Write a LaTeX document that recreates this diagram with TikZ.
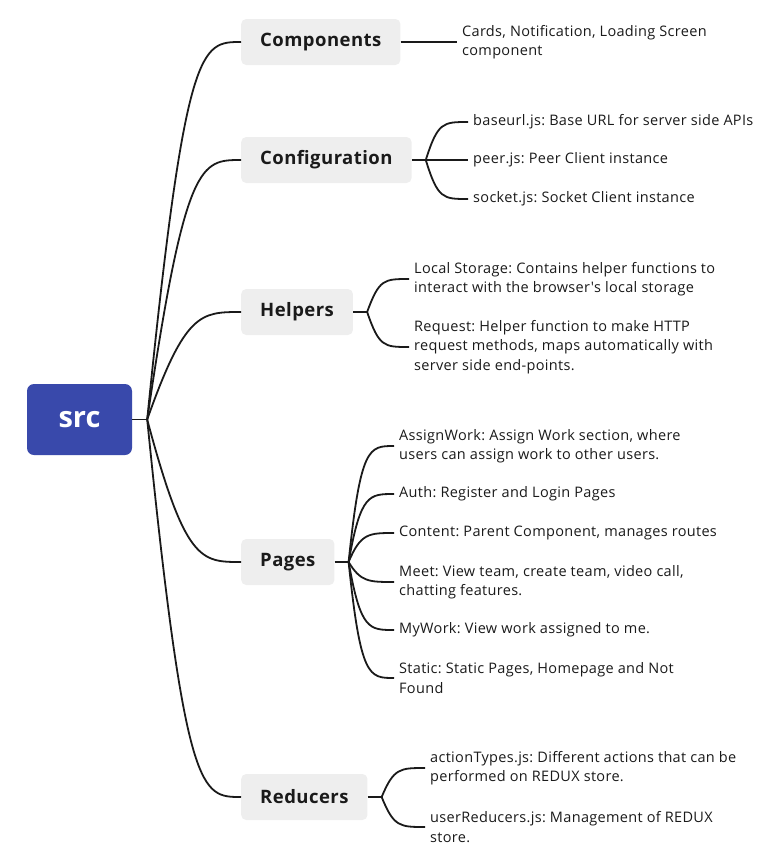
\documentclass[tikz,border=0pt]{standalone}
\usepackage{fontspec}
\setmainfont{Open Sans}
\newfontfamily\leaffont{Open Sans}[LetterSpace=2.2]
\newfontfamily\boxfont{Open Sans}[LetterSpace=2.5]
\usetikzlibrary{calc}
\definecolor{rootColor}{HTML}{3949AB}
\definecolor{boxColor}{HTML}{EEEEEE}
\definecolor{inkColor}{HTML}{1A1A1A}
\frenchspacing

\begin{document}
\begin{tikzpicture}[x=1pt, y=-1pt,
    root/.style={fill=rootColor, text=white, rounded corners=7pt, minimum width=105pt, minimum height=71pt, font=\fontsize{29}{32}\selectfont\bfseries},
    branch/.style={fill=boxColor, text=inkColor, rounded corners=5pt, anchor=west, inner xsep=19pt, minimum height=46pt, font=\boxfont\fontsize{18.5}{20}\selectfont\bfseries},
    leaf/.style={anchor=west, align=left, text=inkColor, inner xsep=5pt, inner ysep=0pt, font=\leaffont\fontsize{14.5}{19.5}\selectfont},
    link/.style={line width=1.8pt, inkColor},
    trunk/.style={to path={.. controls ($(\tikztostart |- \tikztotarget)+(38,0)$) and ($(\tikztotarget)+(-40,0)$) .. (\tikztotarget)}},
    twig/.style={to path={.. controls ($(\tikztostart |- \tikztotarget)+(12,0)$) and ($(\tikztotarget)+(-25,0)$) .. (\tikztotarget)}}]
    \useasboundingbox (0,0) rectangle (771,860);

    % root and first level
    \node[root] (src) at (79.5,419.5) {src};
    \node[branch] (comp) at (241,42) {Components};
    \node[branch] (cfg) at (241,160) {Configuration};
    \node[branch] (help) at (241,312) {Helpers};
    \node[branch] (pages) at (241,562) {Pages};
    \node[branch] (red) at (241,797) {Reducers};

    % leaves
    \node[leaf] (comp1) at (457,42) {Cards, Notification, Loading Screen\\component};
    \node[leaf] (cfg1) at (468,122) {baseurl.js: Base URL for server side APIs};
    \node[leaf] (cfg2) at (468,160) {peer.js: Peer Client instance};
    \node[leaf] (cfg3) at (468,199) {socket.js: Socket Client instance};
    \node[leaf] (help1) at (409,279) {Local Storage: Contains helper functions to\\interact with the browser's local storage};
    \node[leaf] (help2) at (409,347) {Request: Helper function to make HTTP\\request methods, maps automatically with\\server side end-points.};
    \node[leaf] (pg1) at (394,446) {AssignWork: Assign Work section, where\\users can assign work to other users.};
    \node[leaf] (pg2) at (394,494) {Auth: Register and Login Pages};
    \node[leaf] (pg3) at (394,533) {Content: Parent Component, manages routes};
    \node[leaf] (pg4) at (394,582) {Meet: View team, create team, video call,\\chatting features.};
    \node[leaf] (pg5) at (394,630) {MyWork: View work assigned to me.};
    \node[leaf] (pg6) at (394,678) {Static: Static Pages, Homepage and Not\\Found};
    \node[leaf] (red1) at (425,768) {actionTypes.js: Different actions that can be\\performed on REDUX store.};
    \node[leaf] (red2) at (425,827) {userReducers.js: Management of REDUX\\store.};

    % hubs
    \coordinate (srchub) at ($(src.east)+(15,0)$);
    \coordinate (cfghub) at ($(cfg.east)+(14,0)$);
    \coordinate (helphub) at ($(help.east)+(14,0)$);
    \coordinate (pageshub) at ($(pages.east)+(14,0)$);
    \coordinate (redhub) at ($(red.east)+(14,0)$);

    % connectors
    \draw[link] (src.east) -- (srchub);
    \draw[link] (srchub) to[trunk] (comp.west);
    \draw[link] (srchub) to[trunk] (cfg.west);
    \draw[link] (srchub) to[trunk] (help.west);
    \draw[link] (srchub) to[trunk] (pages.west);
    \draw[link] (srchub) to[trunk] (red.west);

    \draw[link] (comp.east) -- (comp1.west);
    \draw[link] (cfg.east) -- (cfghub);
    \draw[link] (cfghub) to[twig] (cfg1.west);
    \draw[link] (cfghub) -- (cfg2.west);
    \draw[link] (cfghub) to[twig] (cfg3.west);
    \draw[link] (help.east) -- (helphub);
    \draw[link] (helphub) to[twig] (help1.west);
    \draw[link] (helphub) to[twig] (help2.west);
    \draw[link] (pages.east) -- (pageshub);
    \draw[link] (pageshub) to[twig] (pg1.west);
    \draw[link] (pageshub) to[twig] (pg2.west);
    \draw[link] (pageshub) to[twig] (pg3.west);
    \draw[link] (pageshub) to[twig] (pg4.west);
    \draw[link] (pageshub) to[twig] (pg5.west);
    \draw[link] (pageshub) to[twig] (pg6.west);
    \draw[link] (red.east) -- (redhub);
    \draw[link] (redhub) to[twig] (red1.west);
    \draw[link] (redhub) to[twig] (red2.west);
\end{tikzpicture}
\end{document}
